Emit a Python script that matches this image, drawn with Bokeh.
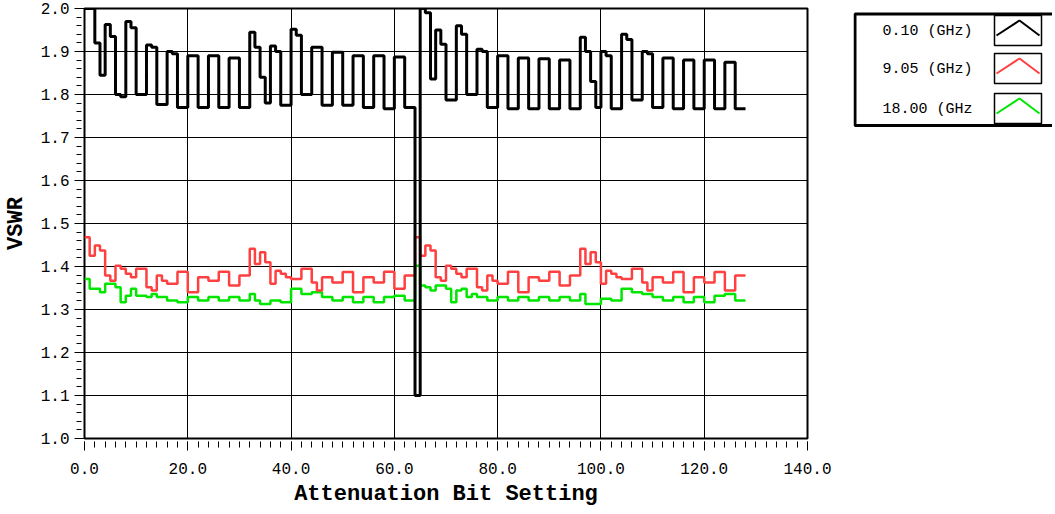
import numpy as np
from bokeh.plotting import figure
from bokeh.models import Range1d, FixedTicker, PrintfTickFormatter
from bokeh.layouts import row
from bokeh.core.properties import value
from bokeh.embed import file_html
from bokeh.resources import INLINE

# ---------------- data ----------------
bit_setting = list(range(128))

series_labels = ["0.10 (GHz)", "9.05 (GHz)", "18.00 (GHz"]
series_colors = ["#000000", "#FF4040", "#00E600"]

vswr_0_10 = [
    2.000, 2.000, 1.920, 1.845, 1.963, 1.935, 1.800, 1.795, 1.970, 1.955, 1.800, 1.800, 1.915, 1.910, 1.777, 1.777,
    1.900, 1.895, 1.770, 1.770, 1.890, 1.890, 1.770, 1.770, 1.890, 1.890, 1.770, 1.770, 1.885, 1.885, 1.770, 1.770,
    1.945, 1.910, 1.840, 1.780, 1.913, 1.900, 1.775, 1.775, 1.952, 1.938, 1.800, 1.800, 1.910, 1.910, 1.775, 1.775,
    1.898, 1.898, 1.775, 1.775, 1.890, 1.890, 1.770, 1.770, 1.890, 1.890, 1.767, 1.767, 1.887, 1.887, 1.770, 1.770,
    1.100, 2.000, 1.990, 1.836, 1.950, 1.917, 1.787, 1.787, 1.960, 1.940, 1.800, 1.800, 1.905, 1.900, 1.770, 1.770,
    1.890, 1.890, 1.767, 1.767, 1.885, 1.885, 1.767, 1.767, 1.883, 1.883, 1.767, 1.767, 1.880, 1.880, 1.767, 1.767,
    1.933, 1.900, 1.830, 1.770, 1.900, 1.890, 1.767, 1.767, 1.940, 1.928, 1.787, 1.787, 1.900, 1.895, 1.770, 1.770,
    1.885, 1.885, 1.767, 1.767, 1.880, 1.880, 1.767, 1.767, 1.880, 1.880, 1.767, 1.767, 1.875, 1.875, 1.767, 1.767,
]

vswr_9_05 = [
    1.468, 1.425, 1.449, 1.437, 1.379, 1.367, 1.402, 1.395, 1.383, 1.375, 1.395, 1.395, 1.352, 1.344, 1.379, 1.367,
    1.360, 1.360, 1.388, 1.388, 1.340, 1.340, 1.375, 1.375, 1.367, 1.367, 1.388, 1.388, 1.356, 1.356, 1.379, 1.379,
    1.441, 1.406, 1.433, 1.410, 1.360, 1.390, 1.383, 1.375, 1.371, 1.371, 1.395, 1.395, 1.363, 1.344, 1.375, 1.375,
    1.363, 1.363, 1.387, 1.387, 1.340, 1.340, 1.375, 1.375, 1.363, 1.363, 1.388, 1.388, 1.348, 1.348, 1.379, 1.379,
    1.468, 1.425, 1.449, 1.437, 1.375, 1.367, 1.402, 1.395, 1.383, 1.375, 1.395, 1.395, 1.352, 1.344, 1.379, 1.367,
    1.360, 1.360, 1.388, 1.388, 1.340, 1.340, 1.375, 1.375, 1.367, 1.367, 1.388, 1.388, 1.356, 1.356, 1.379, 1.379,
    1.441, 1.406, 1.433, 1.410, 1.360, 1.390, 1.383, 1.375, 1.371, 1.371, 1.395, 1.395, 1.363, 1.344, 1.375, 1.375,
    1.363, 1.363, 1.387, 1.387, 1.340, 1.340, 1.375, 1.375, 1.363, 1.363, 1.387, 1.387, 1.344, 1.344, 1.379, 1.379,
]

vswr_18_00 = [
    1.371, 1.348, 1.348, 1.340, 1.360, 1.360, 1.352, 1.317, 1.332, 1.348, 1.332, 1.332, 1.329, 1.336, 1.329, 1.329,
    1.321, 1.321, 1.317, 1.317, 1.329, 1.329, 1.321, 1.321, 1.329, 1.329, 1.321, 1.321, 1.329, 1.329, 1.321, 1.321,
    1.336, 1.321, 1.313, 1.313, 1.321, 1.321, 1.317, 1.317, 1.348, 1.348, 1.336, 1.336, 1.340, 1.340, 1.329, 1.329,
    1.321, 1.321, 1.329, 1.329, 1.317, 1.317, 1.329, 1.329, 1.317, 1.317, 1.329, 1.329, 1.332, 1.332, 1.321, 1.321,
    1.402, 1.356, 1.352, 1.344, 1.356, 1.356, 1.348, 1.317, 1.344, 1.348, 1.329, 1.336, 1.329, 1.329, 1.321, 1.321,
    1.329, 1.329, 1.321, 1.321, 1.329, 1.329, 1.321, 1.321, 1.329, 1.329, 1.321, 1.321, 1.329, 1.329, 1.321, 1.321,
    1.336, 1.313, 1.313, 1.313, 1.325, 1.325, 1.321, 1.321, 1.348, 1.348, 1.340, 1.340, 1.336, 1.336, 1.329, 1.329,
    1.321, 1.321, 1.329, 1.329, 1.317, 1.317, 1.329, 1.329, 1.317, 1.317, 1.332, 1.332, 1.336, 1.336, 1.321, 1.321,
]

x_major_ticks = [0, 20, 40, 60, 80, 100, 120, 140]
y_major_ticks = [1.0, 1.1, 1.2, 1.3, 1.4, 1.5, 1.6, 1.7, 1.8, 1.9, 2.0]

# ---------------- main plot ----------------
MONO = "Liberation Mono"

p = figure(frame_width=723, frame_height=430,
           x_range=Range1d(0, 140), y_range=Range1d(1.0, 2.0),
           output_backend="svg", toolbar_location=None,
           min_border_left=77, min_border_right=46, min_border_top=8, min_border_bottom=40,
           background_fill_color="white", border_fill_color="white")

p.outline_line_color = "black"
p.outline_line_width = 2

x_minor = [float(v) for v in np.arange(0, 140.001, 2.0)]
y_minor = [float(round(v, 3)) for v in np.arange(1.0, 2.0001, 0.02)]
p.xaxis.ticker = FixedTicker(ticks=x_major_ticks, minor_ticks=x_minor)
p.yaxis.ticker = FixedTicker(ticks=y_major_ticks, minor_ticks=y_minor)
p.xaxis.formatter = PrintfTickFormatter(format="%.1f")
p.yaxis.formatter = PrintfTickFormatter(format="%.1f")

for ax in (p.xaxis, p.yaxis):
    ax.axis_line_color = None
    ax.major_tick_line_color = "black"
    ax.minor_tick_line_color = "black"
    ax.major_tick_line_width = 1
    ax.minor_tick_line_width = 1
    ax.major_label_text_font = MONO
    ax.major_label_text_font_size = "16px"
    ax.major_label_text_color = "black"
    ax.axis_label_text_font = MONO
    ax.axis_label_text_font_size = "22px"
    ax.axis_label_text_font_style = "bold"
    ax.axis_label_text_color = "black"

p.xaxis.major_tick_in = -3
p.xaxis.major_tick_out = 12
p.xaxis.minor_tick_in = -3
p.xaxis.minor_tick_out = 9
p.xaxis.major_label_standoff = 12
p.xaxis.axis_label = "Attenuation Bit Setting"
p.xaxis.axis_label_standoff = 5

p.yaxis.major_tick_in = 0
p.yaxis.major_tick_out = 10
p.yaxis.minor_tick_in = -3
p.yaxis.minor_tick_out = 8
p.yaxis.major_label_standoff = 5
p.yaxis.axis_label = "VSWR"
p.yaxis.axis_label_standoff = 9

p.xgrid.grid_line_color = "black"
p.xgrid.grid_line_width = 1
p.ygrid.grid_line_color = "black"
p.ygrid.grid_line_width = 1

xs = bit_setting + [bit_setting[-1] + 1]
for vals, col, lw in ((vswr_18_00, series_colors[2], 2.5),
                      (vswr_9_05, series_colors[1], 2.5),
                      (vswr_0_10, series_colors[0], 3)):
    p.step(xs, vals + [vals[-1]], mode="after", line_color=col, line_width=lw)

# ---------------- legend panel ----------------
LW, LH = 199, 150
lg = figure(frame_width=LW, frame_height=LH, x_range=Range1d(0, LW), y_range=Range1d(LH, 0),
            x_axis_location=None, y_axis_location=None,
            output_backend="svg", toolbar_location=None,
            min_border_left=0, min_border_right=0, min_border_top=0, min_border_bottom=0,
            background_fill_color="white", border_fill_color="white")
lg.grid.visible = False
lg.outline_line_color = None

lg.quad(left=1.5, right=LW + 10, top=5.5, bottom=117, fill_color="white",
        line_color="black", line_width=3)

row_top = [7, 45, 85]
sw_h = 30
lg.text(x=[119] * 3, y=[t + sw_h / 2 + 1 for t in row_top], text=series_labels,
        text_align="right", text_baseline="middle",
        text_font=value(MONO), text_font_size="15px", text_color="black")
lg.quad(left=[141] * 3, right=[188] * 3, top=row_top, bottom=[t + sw_h for t in row_top],
        fill_color="white", line_color="black", line_width=1.5)
lg.multi_line(xs=[[143, 166, 186]] * 3,
              ys=[[t + 20, t + 5, t + 20] for t in row_top],
              line_color=series_colors, line_width=2)

layout = row(p, lg)
open("out.html", "w").write(file_html(layout, INLINE))
